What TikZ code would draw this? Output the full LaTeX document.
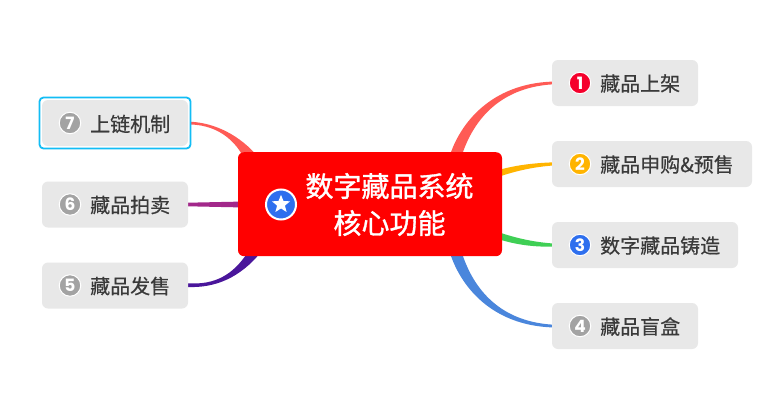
\documentclass[tikz,border=0pt]{standalone}
\usepackage{fontspec}
\setmainfont{Noto Sans CJK SC}
\newfontfamily\labelfont{Noto Sans CJK SC}[FakeBold=0.5]
\newfontfamily\rootfont{Noto Sans CJK SC}[FakeBold=1.2]
\newfontfamily\digitfont{Poppins}
\usetikzlibrary{calc,shapes.geometric,backgrounds}
\definecolor{rootred}{HTML}{FF0000}
\definecolor{boxgrey}{HTML}{E8E8E8}
\definecolor{txt}{HTML}{3A3A3A}
\definecolor{coral}{HTML}{FF5B55}
\definecolor{amber}{HTML}{FFB400}
\definecolor{leaf}{HTML}{3FCF55}
\definecolor{sky}{HTML}{4A86DC}
\definecolor{plum}{HTML}{A2288A}
\definecolor{indigo}{HTML}{4A169B}
\definecolor{icored}{HTML}{F5002C}
\definecolor{icoblue}{HTML}{2E6FEE}
\definecolor{icogrey}{HTML}{A3A3A3}
\definecolor{selblue}{HTML}{12BDF5}
\tikzset{
  x=1pt,y=-1pt,
  topic/.style={fill=boxgrey,rounded corners=6pt,minimum height=46pt,inner sep=0pt,text width=0pt},
  lbl/.style={anchor=west,inner sep=0pt,text=txt,font=\labelfont\fontsize{20pt}{20pt}\selectfont},
  ico/.style={circle,draw=white,line width=1pt,minimum size=21.5pt,inner sep=0pt,text=white,font=\digitfont\bfseries\fontsize{17pt}{17pt}\selectfont},
}
\begin{document}
\begin{tikzpicture}
\useasboundingbox (0,0) rectangle (782,415);
% root
\node[fill=rootred,rounded corners=6pt,minimum width=264pt,minimum height=104pt,inner sep=0pt] (root) at (370,204.2) {};
\node[align=center,text=white,inner sep=0pt,font=\rootfont\fontsize{28pt}{37pt}\selectfont] (roottxt) at (389.5,204.5) {数字藏品系统\\核心功能};
\node[circle,fill=icoblue,draw=white,line width=2pt,minimum size=30pt,inner sep=0pt] (rootico) at (281,204.5) {};
\node[star,star points=5,star point ratio=2.3,fill=white,minimum size=19pt,inner sep=0pt] (rootstar) at (281,204.3) {};
% topics
\node[topic,minimum width=146pt] (n1) at (625,83) {};
\node[topic,minimum width=200pt] (n2) at (652,164) {};
\node[topic,minimum width=186pt] (n3) at (645,245) {};
\node[topic,minimum width=146pt] (n4) at (625,326) {};
\node[topic,minimum width=146pt] (n7) at (115,123) {};
\node[topic,minimum width=146pt] (n6) at (115,204.5) {};
\node[topic,minimum width=146pt] (n5) at (115,285.5) {};
\node[draw=selblue,line width=1.8pt,rounded corners=4pt,minimum width=151pt,minimum height=51pt,inner sep=0pt] (sel) at (115,123) {};
% icons
\node[ico,fill=icored] (i1) at (580,83) {1};
\node[ico,fill=amber] (i2) at (580,164) {2};
\node[ico,fill=icoblue] (i3) at (580,245) {3};
\node[ico,fill=icogrey] (i4) at (580,326) {4};
\node[ico,fill=icogrey] (i7) at (70,123) {7};
\node[ico,fill=icogrey] (i6) at (70,204.5) {6};
\node[ico,fill=icogrey] (i5) at (70,285.5) {5};
% labels
\node[lbl] (t1) at (600,83.5) {藏品上架};
\node[lbl] (t2) at (600,164.5) {藏品申购\&预售};
\node[lbl] (t3) at (600,245.5) {数字藏品铸造};
\node[lbl] (t4) at (600,326.5) {藏品盲盒};
\node[lbl] (t7) at (90,124) {上链机制};
\node[lbl] (t6) at (90,205) {藏品拍卖};
\node[lbl] (t5) at (90,286) {藏品发售};
% connectors
\begin{scope}[on background layer]
\fill[white] (0,0) rectangle (782,415);
\coordinate (a1) at (449,158); \coordinate (b1) at (461,158);
\fill[coral] (a1) .. controls (460,122) and (492,84) .. ($(n1.west)+(0,-1.4)$) -- ($(n1.west)+(0,1.4)$) .. controls (498,88) and (472,122) .. (b1) -- cycle;
\coordinate (a2) at (495,171); \coordinate (b2) at (495,178);
\fill[amber] (a2) .. controls (515,165) and (535,163) .. ($(n2.west)+(0,-1.6)$) -- ($(n2.west)+(0,1.6)$) .. controls (535,167) and (518,170) .. (b2) -- cycle;
\coordinate (a3) at (495,231); \coordinate (b3) at (495,238);
\fill[leaf] (a3) .. controls (518,239) and (535,242) .. ($(n3.west)+(0,-1.6)$) -- ($(n3.west)+(0,1.6)$) .. controls (535,247) and (515,245) .. (b3) -- cycle;
\coordinate (a4) at (461,250); \coordinate (b4) at (449,250);
\fill[sky] (a4) .. controls (472,287) and (498,321) .. ($(n4.west)+(0,-1.4)$) -- ($(n4.west)+(0,1.4)$) .. controls (492,325) and (460,287) .. (b4) -- cycle;
\coordinate (a7) at (259,158); \coordinate (b7) at (244,158);
\fill[coral] (a7) .. controls (240,135) and (215,123) .. ($(sel.east)+(-1,-1.3)$) -- ($(sel.east)+(-1,1.5)$) .. controls (212,125) and (232,135) .. (b7) -- cycle;
\coordinate (a6) at (245,201.5); \coordinate (b6) at (245,207.5);
\fill[plum] (a6) -- ($(n6.east)+(0,-1.8)$) -- ($(n6.east)+(0,1.8)$) -- (b6) -- cycle;
\coordinate (a5) at (261,252); \coordinate (b5) at (248,252);
\fill[indigo] (a5) .. controls (240,278) and (215,288) .. ($(n5.east)+(0,1.5)$) -- ($(n5.east)+(0,-2.2)$) .. controls (215,285) and (233,275) .. (b5) -- cycle;
\end{scope}
\end{tikzpicture}
\end{document}
